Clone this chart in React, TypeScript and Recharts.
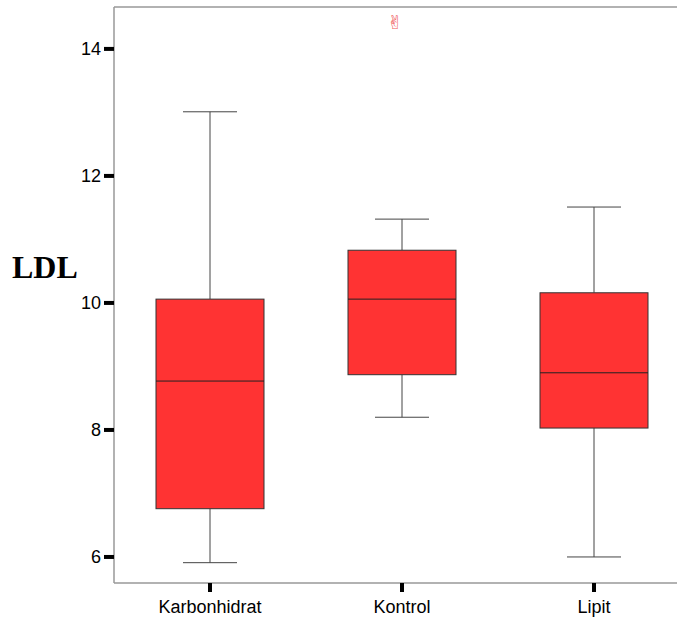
import { ComposedChart, Bar, Scatter, XAxis, YAxis, ReferenceLine } from 'recharts';

const groups = ['Karbonhidrat', 'Kontrol', 'Lipit'];
const mins = [5.91, 8.2, 6.0];
const q1s = [6.76, 8.87, 8.03];
const medians = [8.77, 10.06, 8.9];
const q3s = [10.06, 10.83, 10.16];
const maxs = [13.01, 11.32, 11.51];
const outliers: Array<number | null> = [null, 14.43, null];

const yTicks = [6, 8, 10, 12, 14];
const yMin = 5.59;
const yMax = 14.66;

const data = groups.map((g, i) => ({
  group: g,
  box: [q1s[i], q3s[i]],
  min: mins[i],
  q1: q1s[i],
  median: medians[i],
  q3: q3s[i],
  max: maxs[i],
  outlier: outliers[i],
}));

const BoxShape = (props: any) => {
  const { x, y, width, height, payload } = props;
  const { min, q1, median, q3, max } = payload;
  const ppu = height / (q3 - q1);
  const yOf = (v: number) => y + (q3 - v) * ppu;
  const cx = x + width / 2;
  const cap = width / 4;
  return (
    <g>
      <line x1={cx} x2={cx} y1={yOf(max)} y2={y} stroke="#444" strokeWidth={1} />
      <line x1={cx} x2={cx} y1={y + height} y2={yOf(min)} stroke="#444" strokeWidth={1} />
      <line x1={cx - cap} x2={cx + cap} y1={yOf(max)} y2={yOf(max)} stroke="#444" strokeWidth={1} />
      <line x1={cx - cap} x2={cx + cap} y1={yOf(min)} y2={yOf(min)} stroke="#444" strokeWidth={1} />
      <rect x={x} y={y} width={width} height={height} fill="#ff3333" stroke="#333" strokeWidth={1} />
      <line x1={x} x2={x + width} y1={yOf(median)} y2={yOf(median)} stroke="#222" strokeWidth={1} />
    </g>
  );
};

const OutlierShape = (props: any) => {
  const { cx, cy } = props;
  if (cx == null || cy == null || isNaN(cy)) return <g />;
  return (
    <text x={cx} y={cy} dx={-7} fill="#f05a5a" fontSize={19} textAnchor="middle" dominantBaseline="central" fontFamily="DejaVu Sans">
      ✌
    </text>
  );
};

const LdlLabel = (props: any) => {
  const { viewBox } = props;
  return (
    <text
      x={viewBox.x + 12}
      y={viewBox.y + viewBox.height / 2 - 28}
      dominantBaseline="central"
      fontFamily="Liberation Serif, Times New Roman, serif"
      fontWeight="bold"
      fontSize={32}
      fill="#000"
    >
      LDL
    </text>
  );
};

const App = () => {
  return (
    <div style={{ position: 'absolute', left: 0, top: 0, width: 677, height: 624, overflow: 'hidden', background: '#fff' }}>
      <ComposedChart
        width={690}
        height={624}
        data={data}
        margin={{ top: 7, right: 0, bottom: 0, left: 0 }}
        style={{ fontFamily: 'Liberation Sans, Arial, sans-serif' }}
      >
        <XAxis
          dataKey="group"
          height={41}
          axisLine={{ stroke: '#999', strokeWidth: 1.5 }}
          tickLine={{ stroke: '#000', strokeWidth: 4 }}
          tickSize={9}
          tickMargin={8}
          tick={{ fill: '#000', fontSize: 18 }}
        />
        <YAxis
          domain={[yMin, yMax]}
          ticks={yTicks}
          width={114}
          axisLine={{ stroke: '#999', strokeWidth: 1.5 }}
          tickLine={{ stroke: '#000', strokeWidth: 4 }}
          tickSize={10}
          tickMargin={3}
          tick={{ fill: '#000', fontSize: 18 }}
          allowDataOverflow
          label={<LdlLabel />}
        />
        <ReferenceLine y={yMax} stroke="#999" strokeWidth={1.5} ifOverflow="visible" />
        <Bar dataKey="box" barSize={108} shape={<BoxShape />} isAnimationActive={false} />
        <Scatter dataKey="outlier" shape={<OutlierShape />} isAnimationActive={false} />
      </ComposedChart>
    </div>
  );
};

export default App;
